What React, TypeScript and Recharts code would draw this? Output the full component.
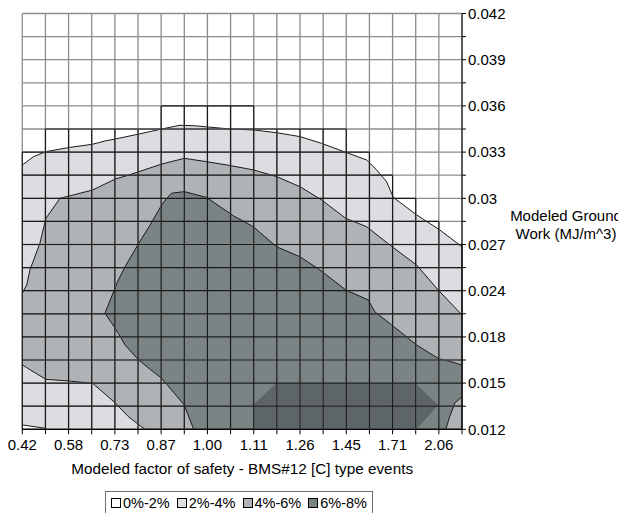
import React from "react";
import { ComposedChart, Area, XAxis, YAxis, ReferenceLine, Legend, Label } from "recharts";

// axis categories (grid positions 0..19 across, 0..18 up; labels every 2nd line)
const xLabels = ["0.42", "0.58", "0.73", "0.87", "1.00", "1.11", "1.26", "1.45", "1.71", "2.06"];
const yLabels = ["0.012", "0.015", "0.018", "0.024", "0.027", "0.03", "0.033", "0.036", "0.039", "0.042"];
const COLS = 19;
const ROWS = 18;

// contour bands, in grid units (u = column position, lo/hi = row position)
const band2to4 = [
  { u: 0, hi: 11.44 }, { u: 0.48, hi: 11.8 }, { u: 1.02, hi: 12.02 }, { u: 2.03, hi: 12.2 },
  { u: 3.04, hi: 12.34 }, { u: 3.57, hi: 12.48 }, { u: 4.03, hi: 12.57 }, { u: 5.03, hi: 12.78 },
  { u: 6.02, hi: 13.0 }, { u: 6.81, hi: 13.16 }, { u: 7.46, hi: 13.14 }, { u: 8.97, hi: 13.0 },
  { u: 9.98, hi: 12.96 }, { u: 10.99, hi: 12.84 }, { u: 12.0, hi: 12.67 }, { u: 12.93, hi: 12.38 },
  { u: 13.98, hi: 11.99 }, { u: 14.88, hi: 11.66 }, { u: 15.31, hi: 11.23 }, { u: 15.74, hi: 10.72 },
  { u: 16.03, hi: 10.04 }, { u: 17.04, hi: 9.28 }, { u: 18.04, hi: 8.63 }, { u: 19, hi: 7.9 },
];

const band4to6 = [
  { u: 0, lo: 2.79, hi: 5.89 }, { u: 0.19, lo: 2.67, hi: 6.25 }, { u: 0.33, lo: 2.58, hi: 6.9 },
  { u: 0.76, lo: 2.32, hi: 8.05 }, { u: 1.02, lo: 2.16, hi: 9.13 }, { u: 1.63, lo: 2.12, hi: 10.0 },
  { u: 2.03, lo: 2.09, hi: 10.1 }, { u: 3.04, lo: 1.99, hi: 10.36 }, { u: 4.03, lo: 1.13, hi: 10.84 },
  { u: 4.58, lo: 0.55, hi: 11.0 }, { u: 5.03, lo: 0.2, hi: 11.15 }, { u: 5.3, lo: 0, hi: 11.24 },
  { u: 6.02, lo: 0, hi: 11.48 }, { u: 7.0, lo: 0, hi: 11.73 }, { u: 8.0, lo: 0, hi: 11.58 },
  { u: 8.97, lo: 0, hi: 11.42 }, { u: 9.98, lo: 0, hi: 11.23 }, { u: 10.99, lo: 0, hi: 10.94 },
  { u: 12.0, lo: 0, hi: 10.5 }, { u: 12.43, lo: 0, hi: 10.24 }, { u: 12.93, lo: 0, hi: 9.93 },
  { u: 13.98, lo: 0, hi: 9.13 }, { u: 14.88, lo: 0, hi: 8.77 }, { u: 15.88, lo: 0, hi: 7.98 },
  { u: 17.04, lo: 0, hi: 7.11 }, { u: 17.97, lo: 0, hi: 6.03 }, { u: 19, lo: 0, hi: 4.95 },
];

const band6to8 = [
  { u: 3.57, lo: 5.02, hi: 5.02 }, { u: 4.0, lo: 4.4, hi: 6.1 }, { u: 4.15, lo: 4.15, hi: 6.46 },
  { u: 4.44, lo: 3.65, hi: 7.04 }, { u: 5.03, lo: 3.0, hi: 8.05 }, { u: 5.52, lo: 2.6, hi: 8.84 },
  { u: 6.02, lo: 2.21, hi: 9.71 }, { u: 6.24, lo: 1.95, hi: 10.0 }, { u: 6.45, lo: 1.7, hi: 10.22 },
  { u: 7.0, lo: 1.05, hi: 10.29 }, { u: 7.39, lo: 0.04, hi: 10.19 }, { u: 7.45, lo: 0, hi: 10.17 },
  { u: 7.96, lo: 0, hi: 10.04 }, { u: 8.54, lo: 0, hi: 9.64 }, { u: 9.11, lo: 0, hi: 9.25 },
  { u: 9.98, lo: 0, hi: 8.77 }, { u: 10.99, lo: 0, hi: 7.9 }, { u: 12.0, lo: 0, hi: 7.47 },
  { u: 12.86, lo: 0, hi: 6.9 }, { u: 13.98, lo: 0, hi: 6.03 }, { u: 14.95, lo: 0, hi: 5.6 },
  { u: 15.23, lo: 0, hi: 5.09 }, { u: 15.96, lo: 0, hi: 4.52 }, { u: 17.04, lo: 0, hi: 3.65 },
  { u: 17.97, lo: 0, hi: 3.07 }, { u: 18.3, lo: 0, hi: 2.98 }, { u: 18.47, lo: 0.55, hi: 2.94 },
  { u: 18.69, lo: 1.13, hi: 2.88 }, { u: 19, lo: 1.41, hi: 2.78 },
];

// peak cells along the bottom
const bandPeak = [
  { u: 9.98, lo: 0, hi: 1.05 }, { u: 10.99, lo: 0, hi: 2.02 }, { u: 16.96, lo: 0, hi: 2.02 },
  { u: 17.04, lo: 0, hi: 1.94 }, { u: 17.97, lo: 1.05, hi: 1.05 },
];

// small 0%-2% sliver bottom-left
const band0to2 = [
  { u: 0, lo: 0, hi: 0.19 }, { u: 1.02, lo: 0, hi: 0.04 },
];

// number of rows (from the bottom) that the surface covers in each column
const surfaceRows = [12, 13, 13, 13, 13, 13, 14, 14, 14, 14, 13, 13, 13, 13, 12, 11, 10, 9, 8];

const legendItems = [
  { name: "0%-2%", color: "#ffffff" },
  { name: "2%-4%", color: "#dcdde0" },
  { name: "4%-6%", color: "#b0b3b6" },
  { name: "6%-8%", color: "#7a8485" },
];
const PEAK = "#5e6568";
const LINE = "#1a1a1a";
const FONT = "'Liberation Sans', Arial, sans-serif";

const range = (d: any) => [d.lo, d.hi];

const LegendBox = () => (
  <div
    style={{
      display: "flex",
      alignItems: "center",
      border: "1px solid #6e6e6e",
      padding: "3px 5px",
      fontFamily: FONT,
      fontSize: 14.5,
      lineHeight: "16px",
      color: "#000",
      whiteSpace: "nowrap",
    }}
  >
    {legendItems.map((it, i) => (
      <span key={it.name} style={{ display: "flex", alignItems: "center", marginLeft: i ? 7 : 0 }}>
        <span
          style={{
            width: 8,
            height: 8,
            border: "1px solid #000",
            background: it.color,
            marginRight: 2,
            display: "inline-block",
          }}
        />
        {it.name}
      </span>
    ))}
  </div>
);

export default function App() {
  const xTicks = Array.from({ length: COLS + 1 }, (_, i) => i);
  const yTicks = Array.from({ length: ROWS + 1 }, (_, i) => i);

  // black mesh edges where the surface has colour
  const blackV = xTicks.map((i) => ({
    i,
    h: Math.max(surfaceRows[i - 1] ?? 0, surfaceRows[i] ?? 0),
  }));
  const blackH = yTicks
    .map((j) => {
      const cols = surfaceRows.map((r, c) => (r >= j ? c : -1)).filter((c) => c >= 0);
      if (!cols.length) return null;
      return { j, from: Math.min(...cols), to: Math.max(...cols) + 1 };
    })
    .filter(Boolean) as { j: number; from: number; to: number }[];

  const areaCommon = {
    type: "linear" as const,
    dataKey: range,
    fillOpacity: 1,
    stroke: LINE,
    strokeWidth: 1,
    dot: false,
    activeDot: false,
    isAnimationActive: false,
    legendType: "none" as const,
  };

  return (
    <div style={{ fontFamily: FONT }}>
      <style>{".recharts-surface{overflow:visible}"}</style>
      <ComposedChart width={616} height={505} margin={{ top: 5.5, left: 14.3, right: 102, bottom: 43.7 }}>
        <XAxis
          type="number"
          dataKey="u"
          domain={[0, COLS]}
          ticks={xTicks}
          interval={0}
          allowDataOverflow
          tickFormatter={(v: number) => (v % 2 === 0 && xLabels[v / 2] ? xLabels[v / 2] : "")}
          height={40}
          tickSize={5}
          tickMargin={5}
          stroke="#000"
          tick={{ fill: "#000", fontSize: 15, fontFamily: FONT }}
        >
          <Label
            content={(props: any) => {
              const vb = props.viewBox || { x: 14.3, y: 421.3, width: 439.7 };
              return (
                <text x={vb.x + vb.width / 2} y={vb.y + 45} textAnchor="middle" fontSize={15.3} fill="#000" fontFamily={FONT}>
                  Modeled factor of safety - BMS#12 [C] type events
                </text>
              );
            }}
          />
        </XAxis>
        <YAxis
          type="number"
          orientation="right"
          domain={[0, ROWS]}
          ticks={yTicks}
          interval={0}
          allowDataOverflow
          tickFormatter={(v: number) => (v % 2 === 0 && yLabels[v / 2] ? yLabels[v / 2] : "")}
          width={60}
          tickSize={4}
          tickMargin={2}
          stroke="#000"
          tick={{ fill: "#000", fontSize: 15, fontFamily: FONT, textAnchor: "start" }}
        >
          <Label
            content={(props: any) => {
              const vb = props.viewBox || { x: 454, y: 5.5 };
              const cx = vb.x + 104;
              return (
                <text textAnchor="middle" fontSize={15} fill="#000" fontFamily={FONT}>
                  <tspan x={cx} y={vb.y + 207}>Modeled Ground</tspan>
                  <tspan x={cx} y={vb.y + 225}>Work (MJ/m^3)</tspan>
                </text>
              );
            }}
          />
        </YAxis>

        <Area {...areaCommon} data={band2to4} dataKey="hi" baseValue={0} fill={legendItems[1].color} />
        <Area {...areaCommon} data={band4to6} fill={legendItems[2].color} />
        <Area {...areaCommon} data={band6to8} fill={legendItems[3].color} />
        <Area {...areaCommon} data={bandPeak} fill={PEAK} stroke="none" />
        <Area {...areaCommon} data={band0to2} fill={legendItems[0].color} />

        {xTicks.map((i) => (
          <ReferenceLine key={"gv" + i} segment={[{ x: i, y: 0 }, { x: i, y: ROWS }]} stroke="#8c8c8c" strokeWidth={1.3} />
        ))}
        {yTicks.map((j) => (
          <ReferenceLine key={"gh" + j} segment={[{ x: 0, y: j }, { x: COLS, y: j }]} stroke="#8c8c8c" strokeWidth={1.3} />
        ))}
        {blackV.map((s) => (
          <ReferenceLine key={"bv" + s.i} segment={[{ x: s.i, y: 0 }, { x: s.i, y: s.h }]} stroke={LINE} strokeWidth={1.2} />
        ))}
        {blackH.map((s) => (
          <ReferenceLine key={"bh" + s.j} segment={[{ x: s.from, y: s.j }, { x: s.to, y: s.j }]} stroke={LINE} strokeWidth={1.2} />
        ))}

        <Legend
          layout="horizontal"
          verticalAlign="middle"
          align="center"
          wrapperStyle={{ position: "absolute", left: 231, top: 483, width: "auto", height: "auto", transform: "translateX(-50%)" }}
          content={() => <LegendBox />}
        />
      </ComposedChart>
    </div>
  );
}
